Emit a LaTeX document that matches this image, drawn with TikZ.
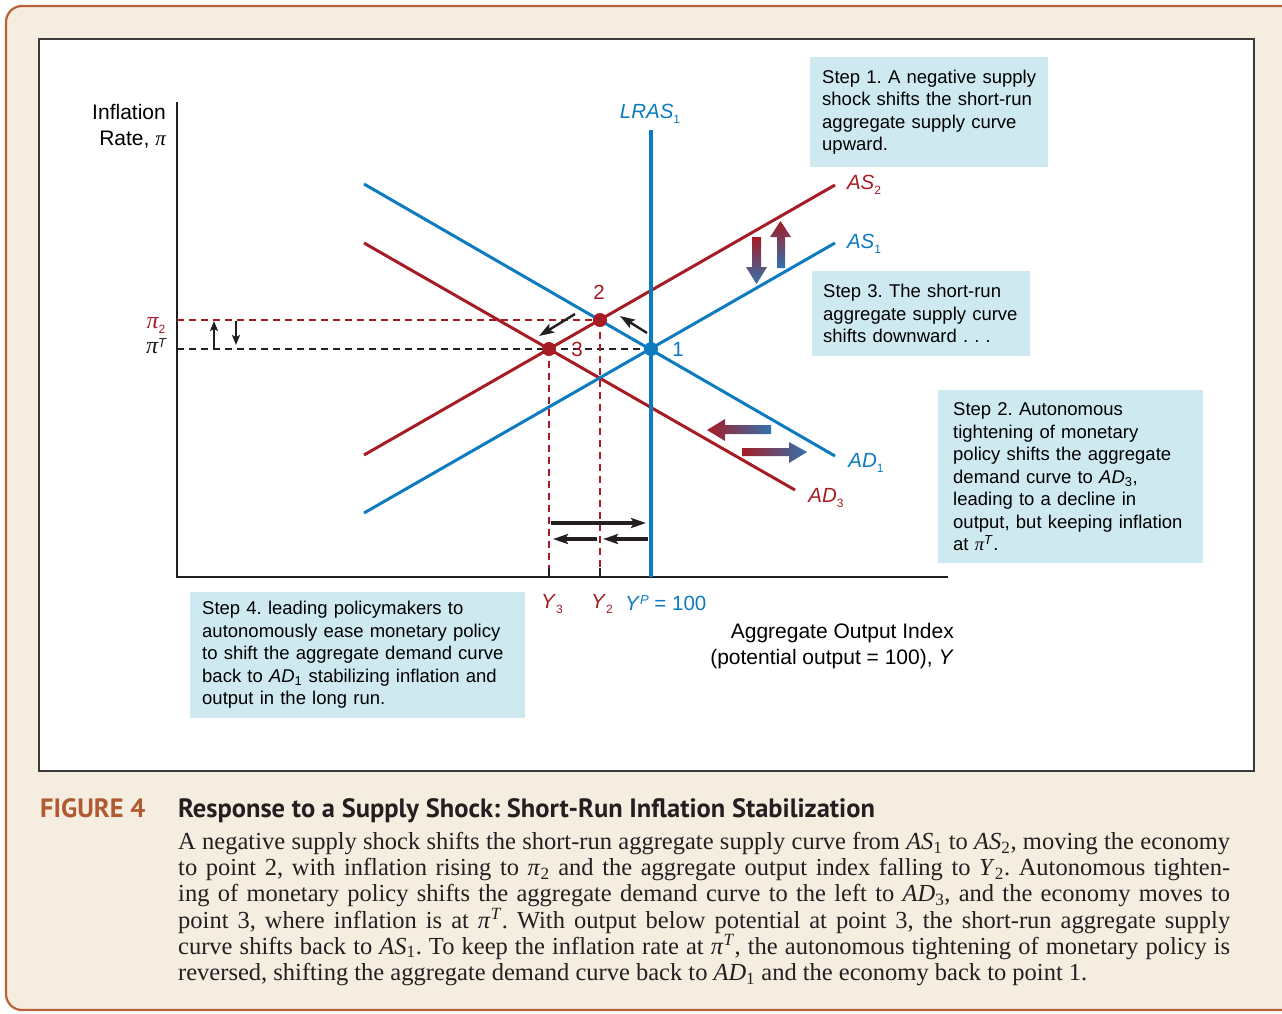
\documentclass[tikz,border=0pt]{standalone}
\usepackage{fontspec}
\setmainfont{Liberation Sans}
\newfontfamily\capserif{Liberation Serif}
\newfontfamily\capsans{PT Sans}
\usepackage{xcolor}
\usetikzlibrary{arrows.meta, positioning}
\frenchspacing

\definecolor{framefill}{HTML}{F4EDE0}
\definecolor{framedraw}{HTML}{B9613B}
\definecolor{panelgray}{HTML}{3A3A3A}
\definecolor{boxfill}{HTML}{CFE9F1}
\definecolor{ecored}{HTML}{A51C24}
\definecolor{ecoblue}{HTML}{0C7BC0}
\definecolor{gradblue}{HTML}{3272AE}
\definecolor{arrgray}{HTML}{231F20}
\definecolor{figorange}{HTML}{B05A32}

\newcommand{\lsub}[1]{\raisebox{-5pt}{\fontsize{12}{12}\selectfont\upshape #1}}
\newcommand{\lsup}[1]{\raisebox{6pt}{\fontsize{13}{13}\selectfont\itshape #1}}
\newcommand{\pisym}{{\capserif\itshape π}}

\begin{document}
\begin{tikzpicture}[x=1pt, y=-1pt,
    curve/.style={line width=3pt},
    dot/.style={circle, inner sep=0pt, minimum size=14pt},
    guide/.style={dash pattern=on 7pt off 5pt, line width=1.3pt},
    stepbox/.style={fill=boxfill, anchor=north west, align=left, inner xsep=12pt, inner ysep=0pt, font=\fontsize{18.5}{22.5}\selectfont},
    clabel/.style={font=\fontsize{20.5}{24}\selectfont},
    alabel/.style={font=\fontsize{21}{26.5}\selectfont, align=right, inner sep=0pt},
    arr/.style={-{Stealth[length=15pt, width=10pt, inset=3pt]}, line width=3.2pt, draw=arrgray},
    smallarr/.style={-{Stealth[length=10pt, width=8pt, inset=2pt]}, line width=2.2pt, draw=arrgray},
]
\useasboundingbox (0,0) rectangle (1282,1013);
\clip (0,0) rectangle (1282,1013);

% frame and panel
\filldraw[fill=framefill, draw=framedraw, line width=2.2pt, rounded corners=16pt] (6,6) rectangle (1310,1010);
\filldraw[fill=white, draw=panelgray, line width=1.2pt] (39,39) rectangle (1254,771);

% step boxes
\node[stepbox, text width=214pt, minimum height=110pt] (step1) at (810,57) {Step 1. A negative supply\\shock shifts the short-run\\aggregate supply curve\\upward.};
\node[stepbox, inner xsep=11pt, text width=196pt, minimum height=85pt] (step3) at (812,271) {Step 3. The short-run\\aggregate supply curve\\shifts downward . . .};
\node[stepbox, inner xsep=15pt, text width=235pt, minimum height=173pt] (step2) at (938,390) {Step 2. Autonomous\\tightening of monetary\\policy shifts the aggregate\\demand curve to \textit{AD}\textsubscript{3},\\leading to a decline in\\output, but keeping inflation\\at \pisym\textsuperscript{\textit{T}}.};
\node[stepbox, text width=311pt, minimum height=126pt] (step4) at (190,592) {Step 4. leading policymakers to\\autonomously ease monetary policy\\to shift the aggregate demand curve\\back to \textit{AD}\textsubscript{1} stabilizing inflation and\\output in the long run.};

% axes
\coordinate (origin) at (177,577);
\coordinate (ytop) at (177,102);
\coordinate (xend) at (948,577);
\draw[line width=1.5pt, draw=arrgray] (ytop) -- (origin) -- (xend);
\node[alabel, anchor=east] (ylab) at (166,126) {Inflation\\Rate, \pisym};
\node[alabel, anchor=east] (xlab) at (954,646) {Aggregate Output Index\\(potential output = 100), \textit{Y}};

% equilibrium points
\coordinate (p1) at (651,349);
\coordinate (p2) at (600,320);
\coordinate (p3) at (549,349);
\coordinate (pi2tick) at (177,320);
\coordinate (piTtick) at (177,349);
\coordinate (y3tick) at (549,568);
\coordinate (y2tick) at (600,568);

% guide lines
\draw[guide, draw=ecored] (pi2tick) -- (p2);
\draw[guide, draw=arrgray] (piTtick) -- (p1);
\draw[guide, draw=ecored] (p3) -- (y3tick);
\draw[guide, draw=ecored] (p2) -- (y2tick);
\draw[line width=1.3pt, draw=arrgray] (y3tick) -- (y3tick |- origin);
\draw[line width=1.3pt, draw=arrgray] (y2tick) -- (y2tick |- origin);

% curves
\coordinate (as1a) at (364,513); \coordinate (as1b) at (835,243);
\coordinate (as2a) at (364,455); \coordinate (as2b) at (835,185);
\coordinate (ad1a) at (364,184); \coordinate (ad1b) at (835,456);
\coordinate (ad3a) at (364,243); \coordinate (ad3b) at (795,490);
\coordinate (lrastop) at (651,130);
\draw[curve, draw=ecored] (as2a) -- (as2b);
\draw[curve, draw=ecored] (ad3a) -- (ad3b);
\draw[curve, draw=ecoblue] (as1a) -- (as1b);
\draw[curve, draw=ecoblue] (ad1a) -- (ad1b);
\draw[line width=3.5pt, draw=ecoblue] (lrastop) -- (lrastop |- origin);

\node[dot, fill=ecoblue] (d1) at (p1) {};
\node[dot, fill=ecored] (d2) at (p2) {};
\node[dot, fill=ecored] (d3) at (p3) {};

% labels
\node[clabel, text=ecoblue] (lrasl) at (650,114) {\textit{LRAS}\lsub{1}};
\node[clabel, text=ecored] (as2l) at (864,185) {\textit{AS}\lsub{2}};
\node[clabel, text=ecoblue] (as1l) at (864,244) {\textit{AS}\lsub{1}};
\node[clabel, text=ecoblue] (ad1l) at (866,463) {\textit{AD}\lsub{1}};
\node[clabel, text=ecored] (ad3l) at (826,498) {\textit{AD}\lsub{3}};
\node[clabel, text=ecored] (n2) at (599,292) {2};
\node[clabel, text=ecored] (n3) at (577,349) {3};
\node[clabel, text=ecoblue] (n1) at (678,349) {1};
\node[clabel, text=ecored] (pi2l) at (156,325) {{\fontsize{24}{24}\selectfont\pisym}\lsub{2}};
\node[clabel, text=arrgray] (piTl) at (156,346) {{\fontsize{24}{24}\selectfont\pisym}\lsup{T}};
\node[clabel, text=ecored] (y3l) at (552,604) {\textit{Y}\lsub{3}};
\node[clabel, text=ecored] (y2l) at (602,604) {\textit{Y}\lsub{2}};
\node[clabel, text=ecoblue, anchor=west, inner sep=0pt] (ypl) at (625,603) {\textit{Y}\lsup{P} = 100};

% movement arrows
\coordinate (m12s) at (647,333); \coordinate (m12e) at (620,316);
\coordinate (m23s) at (575,314); \coordinate (m23e) at (539,336);
\draw[arr, line width=2.4pt] (m12s) -- (m12e);
\draw[arr, line width=2.4pt] (m23s) -- (m23e);
\coordinate (upa) at (214,349); \coordinate (upb) at (214,321);
\coordinate (dna) at (236,321); \coordinate (dnb) at (236,345);
\draw[smallarr] (upa) -- (upb);
\draw[smallarr] (dna) -- (dnb);
\coordinate (r1a) at (551,523); \coordinate (r1b) at (646,523);
\coordinate (l1a) at (597,539); \coordinate (l1b) at (553,539);
\coordinate (l2a) at (648,539); \coordinate (l2b) at (603,539);
\draw[arr] (r1a) -- (r1b);
\draw[arr] (l1a) -- (l1b);
\draw[arr] (l2a) -- (l2b);

% shift arrows
\shade[top color=ecored, bottom color=gradblue] (752,237) -- (761,237) -- (761,267) -- (767,267) -- (756.5,284) -- (746,267) -- (752,267) -- cycle;
\shade[top color=ecored, bottom color=gradblue] (777,268) -- (785,268) -- (785,237) -- (791,237) -- (780.5,221) -- (770,237) -- (777,237) -- cycle;
\shade[left color=ecored, right color=gradblue] (771,425) -- (771,434) -- (725,434) -- (725,441) -- (707,430) -- (725,419) -- (725,425) -- cycle;
\shade[left color=ecored, right color=gradblue] (742,448) -- (789,448) -- (789,442) -- (807,452) -- (789,463) -- (789,456) -- (742,456) -- cycle;

% caption
\node[anchor=base west, inner sep=0pt, text=figorange, font=\capsans\bfseries\fontsize{26.5}{30}\selectfont] (fignum) at (40,817) {FIGURE 4};
\node[anchor=base west, inner sep=0pt, text=arrgray, font=\capsans\bfseries\fontsize{26.5}{30}\selectfont] (figtitle) at (178,817) {Response to a Supply Shock: Short-Run Inflation Stabilization};
\node[anchor=north west, inner sep=0pt, text width=1052pt, align=justify, text=arrgray, font=\capserif\fontsize{24.5}{26.2}\selectfont] (figtext) at (178,832) {A negative supply shock shifts the short-run aggregate supply curve from \textit{AS}\textsubscript{1} to \textit{AS}\textsubscript{2}, moving the economy\linebreak to point 2, with inflation rising to \textit{π}\textsubscript{2} and the aggregate output index falling to \textit{Y}\textsubscript{2}. Autonomous tighten-\linebreak ing of monetary policy shifts the aggregate demand curve to the left to \textit{AD}\textsubscript{3}, and the economy moves to\linebreak point 3, where inflation is at \textit{π}\textsuperscript{\textit{T}}. With output below potential at point 3, the short-run aggregate supply\linebreak curve shifts back to \textit{AS}\textsubscript{1}. To keep the inflation rate at \textit{π}\textsuperscript{\textit{T}}, the autonomous tightening of monetary policy is\linebreak reversed, shifting the aggregate demand curve back to \textit{AD}\textsubscript{1} and the economy back to point 1.};

\end{tikzpicture}
\end{document}
